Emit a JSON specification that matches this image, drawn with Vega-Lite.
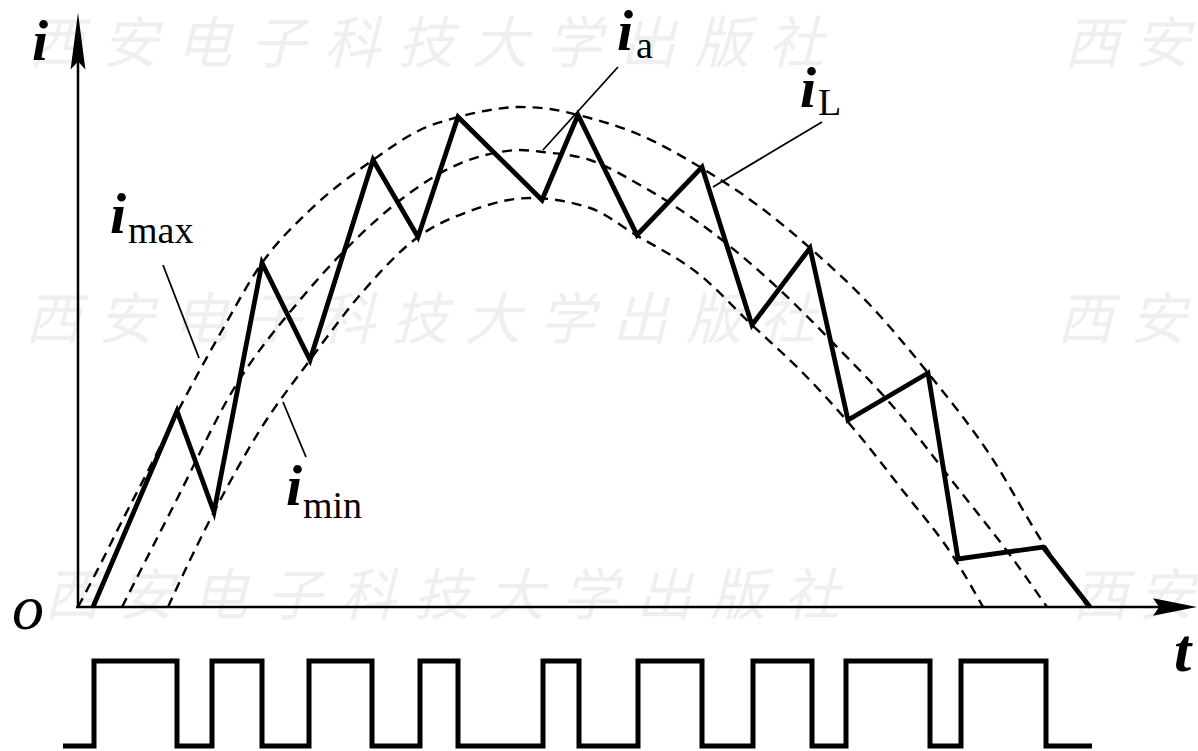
{
  "$schema": "https://vega.github.io/schema/vega-lite/v6.json",
  "width": 1198,
  "height": 751,
  "padding": 0,
  "autosize": {"type": "none"},
  "background": "white",
  "config": {"view": {"stroke": null}},
  "datasets": {
    "wm": [
      {"x": 56, "y": 46, "t": "西"}, {"x": 130, "y": 46, "t": "安"}, {"x": 204, "y": 46, "t": "电"}, {"x": 278, "y": 46, "t": "子"}, {"x": 352, "y": 46, "t": "科"}, {"x": 426, "y": 46, "t": "技"}, {"x": 500, "y": 46, "t": "大"}, {"x": 574, "y": 46, "t": "学"}, {"x": 648, "y": 46, "t": "出"}, {"x": 722, "y": 46, "t": "版"}, {"x": 796, "y": 46, "t": "社"}, {"x": 1092, "y": 46, "t": "西"}, {"x": 1162, "y": 46, "t": "安"},
      {"x": 53, "y": 322, "t": "西"}, {"x": 126, "y": 322, "t": "安"}, {"x": 200, "y": 322, "t": "电"}, {"x": 273, "y": 322, "t": "子"}, {"x": 347, "y": 322, "t": "科"}, {"x": 420, "y": 322, "t": "技"}, {"x": 493, "y": 322, "t": "大"}, {"x": 567, "y": 322, "t": "学"}, {"x": 640, "y": 322, "t": "出"}, {"x": 714, "y": 322, "t": "版"}, {"x": 787, "y": 322, "t": "社"}, {"x": 1085, "y": 322, "t": "西"}, {"x": 1158, "y": 322, "t": "安"},
      {"x": 72, "y": 598, "t": "西"}, {"x": 146, "y": 598, "t": "安"}, {"x": 220, "y": 598, "t": "电"}, {"x": 294, "y": 598, "t": "子"}, {"x": 368, "y": 598, "t": "科"}, {"x": 442, "y": 598, "t": "技"}, {"x": 516, "y": 598, "t": "大"}, {"x": 590, "y": 598, "t": "学"}, {"x": 664, "y": 598, "t": "出"}, {"x": 738, "y": 598, "t": "版"}, {"x": 812, "y": 598, "t": "社"}, {"x": 1100, "y": 598, "t": "西"}, {"x": 1166, "y": 598, "t": "安"}
    ],
    "curves": [
      {"s": "imax", "x": 78, "y": 607}, {"s": "imax", "x": 100, "y": 565}, {"s": "imax", "x": 120, "y": 525}, {"s": "imax", "x": 150, "y": 467}, {"s": "imax", "x": 177, "y": 413}, {"s": "imax", "x": 220, "y": 334}, {"s": "imax", "x": 262, "y": 263}, {"s": "imax", "x": 310, "y": 210}, {"s": "imax", "x": 373, "y": 160}, {"s": "imax", "x": 420, "y": 130}, {"s": "imax", "x": 458, "y": 117}, {"s": "imax", "x": 490, "y": 110}, {"s": "imax", "x": 518, "y": 107}, {"s": "imax", "x": 550, "y": 109}, {"s": "imax", "x": 578, "y": 115}, {"s": "imax", "x": 640, "y": 135}, {"s": "imax", "x": 700, "y": 167}, {"s": "imax", "x": 760, "y": 207}, {"s": "imax", "x": 810, "y": 248}, {"s": "imax", "x": 870, "y": 305}, {"s": "imax", "x": 928, "y": 373}, {"s": "imax", "x": 990, "y": 455}, {"s": "imax", "x": 1043, "y": 543}, {"s": "imax", "x": 1088, "y": 607},
      {"s": "ia", "x": 122, "y": 607}, {"s": "ia", "x": 150, "y": 552}, {"s": "ia", "x": 175, "y": 503}, {"s": "ia", "x": 233, "y": 390}, {"s": "ia", "x": 300, "y": 300}, {"s": "ia", "x": 350, "y": 245}, {"s": "ia", "x": 407, "y": 195}, {"s": "ia", "x": 450, "y": 168}, {"s": "ia", "x": 500, "y": 152}, {"s": "ia", "x": 520, "y": 150}, {"s": "ia", "x": 543, "y": 152}, {"s": "ia", "x": 590, "y": 160}, {"s": "ia", "x": 640, "y": 185}, {"s": "ia", "x": 713, "y": 233}, {"s": "ia", "x": 780, "y": 290}, {"s": "ia", "x": 840, "y": 350}, {"s": "ia", "x": 890, "y": 403}, {"s": "ia", "x": 960, "y": 491}, {"s": "ia", "x": 1010, "y": 555}, {"s": "ia", "x": 1047, "y": 607},
      {"s": "imin", "x": 168, "y": 607}, {"s": "imin", "x": 190, "y": 560}, {"s": "imin", "x": 214, "y": 512}, {"s": "imin", "x": 260, "y": 430}, {"s": "imin", "x": 310, "y": 360}, {"s": "imin", "x": 360, "y": 295}, {"s": "imin", "x": 418, "y": 237}, {"s": "imin", "x": 470, "y": 211}, {"s": "imin", "x": 530, "y": 198}, {"s": "imin", "x": 590, "y": 208}, {"s": "imin", "x": 636, "y": 235}, {"s": "imin", "x": 700, "y": 275}, {"s": "imin", "x": 752, "y": 325}, {"s": "imin", "x": 800, "y": 370}, {"s": "imin", "x": 848, "y": 422}, {"s": "imin", "x": 900, "y": 487}, {"s": "imin", "x": 958, "y": 564}, {"s": "imin", "x": 983, "y": 607}
    ],
    "iL": [
      {"x": 93, "y": 607}, {"x": 177, "y": 411}, {"x": 214, "y": 512}, {"x": 262, "y": 263}, {"x": 310, "y": 360}, {"x": 373, "y": 160}, {"x": 418, "y": 237}, {"x": 458, "y": 117}, {"x": 542, "y": 200}, {"x": 578, "y": 115}, {"x": 637, "y": 235}, {"x": 702, "y": 167}, {"x": 752, "y": 325}, {"x": 810, "y": 248}, {"x": 848, "y": 420}, {"x": 928, "y": 373}, {"x": 958, "y": 559}, {"x": 1043, "y": 547}, {"x": 1090, "y": 607}
    ],
    "pulse": [
      {"x": 63, "y": 746}, {"x": 94, "y": 661}, {"x": 177, "y": 746}, {"x": 212, "y": 661}, {"x": 262, "y": 746}, {"x": 309, "y": 661}, {"x": 372, "y": 746}, {"x": 420, "y": 661}, {"x": 458, "y": 746}, {"x": 543, "y": 661}, {"x": 579, "y": 746}, {"x": 638, "y": 661}, {"x": 702, "y": 746}, {"x": 753, "y": 661}, {"x": 812, "y": 746}, {"x": 846, "y": 661}, {"x": 930, "y": 746}, {"x": 961, "y": 661}, {"x": 1046, "y": 746}, {"x": 1092, "y": 746}
    ],
    "axes": [
      {"x": 78, "y": 607, "x2": 78, "y2": 45},
      {"x": 76, "y": 607, "x2": 1160, "y2": 607}
    ],
    "leaders": [
      {"x": 163, "y": 265, "x2": 199, "y2": 358},
      {"x": 283, "y": 402, "x2": 306, "y2": 457},
      {"x": 618, "y": 67, "x2": 543, "y2": 150},
      {"x": 822, "y": 122, "x2": 713, "y2": 187}
    ],
    "arrows": [
      {"d": "up", "x": 78, "y": 41},
      {"d": "right", "x": 1175, "y": 607}
    ],
    "mainI": [
      {"x": 32, "y": 60, "t": "i"},
      {"x": 110, "y": 233, "t": "i"},
      {"x": 286, "y": 505, "t": "i"},
      {"x": 617, "y": 50, "t": "i"},
      {"x": 800, "y": 107, "t": "i"}
    ],
    "subs": [
      {"x": 128, "y": 243, "t": "max"},
      {"x": 303, "y": 518, "t": "min"},
      {"x": 636, "y": 58, "t": "a"},
      {"x": 818, "y": 115, "t": "L"}
    ]
  },
  "layer": [
    {
      "data": {"name": "wm"},
      "mark": {"type": "text", "align": "center", "baseline": "middle", "font": "Noto Sans CJK SC", "fontSize": 56, "fontStyle": "italic", "color": "#efefef"},
      "encoding": {
        "x": {"field": "x", "type": "quantitative", "scale": {"domain": [0, 1198], "nice": false, "zero": false}, "axis": null},
        "y": {"field": "y", "type": "quantitative", "scale": {"domain": [0, 751], "nice": false, "zero": false, "reverse": true}, "axis": null},
        "text": {"field": "t"}
      }
    },
    {
      "data": {"name": "axes"},
      "mark": {"type": "rule", "strokeWidth": 2.5, "color": "black"},
      "encoding": {
        "x": {"field": "x", "type": "quantitative"},
        "y": {"field": "y", "type": "quantitative"},
        "x2": {"field": "x2"},
        "y2": {"field": "y2"}
      }
    },
    {
      "data": {"name": "arrows"},
      "transform": [{"filter": "datum.d === 'up'"}],
      "mark": {"type": "point", "filled": true, "color": "black", "opacity": 1, "size": 3249, "shape": "M0,-1L0.26,1L0,0.72L-0.26,1Z"},
      "encoding": {
        "x": {"field": "x", "type": "quantitative"},
        "y": {"field": "y", "type": "quantitative"}
      }
    },
    {
      "data": {"name": "arrows"},
      "transform": [{"filter": "datum.d === 'right'"}],
      "mark": {"type": "point", "filled": true, "color": "black", "opacity": 1, "size": 1936, "shape": "M1,0L-1,-0.4L-0.72,0L-1,0.4Z"},
      "encoding": {
        "x": {"field": "x", "type": "quantitative"},
        "y": {"field": "y", "type": "quantitative"}
      }
    },
    {
      "data": {"name": "curves"},
      "mark": {"type": "line", "interpolate": "monotone", "strokeWidth": 2.4, "strokeDash": [10, 7], "color": "black"},
      "encoding": {
        "x": {"field": "x", "type": "quantitative"},
        "y": {"field": "y", "type": "quantitative"},
        "detail": {"field": "s"}
      }
    },
    {
      "data": {"name": "leaders"},
      "mark": {"type": "rule", "strokeWidth": 1.8, "color": "black"},
      "encoding": {
        "x": {"field": "x", "type": "quantitative"},
        "y": {"field": "y", "type": "quantitative"},
        "x2": {"field": "x2"},
        "y2": {"field": "y2"}
      }
    },
    {
      "data": {"name": "iL"},
      "mark": {"type": "line", "interpolate": "linear", "strokeWidth": 4.8, "strokeJoin": "miter", "strokeCap": "butt", "color": "black"},
      "encoding": {
        "x": {"field": "x", "type": "quantitative"},
        "y": {"field": "y", "type": "quantitative"}
      }
    },
    {
      "data": {"name": "pulse"},
      "mark": {"type": "line", "interpolate": "step-after", "strokeWidth": 5, "strokeJoin": "miter", "strokeCap": "butt", "color": "black"},
      "encoding": {
        "x": {"field": "x", "type": "quantitative"},
        "y": {"field": "y", "type": "quantitative"}
      }
    },
    {
      "data": {"name": "mainI"},
      "mark": {"type": "text", "align": "left", "baseline": "alphabetic", "font": "Liberation Serif", "fontSize": 58, "fontStyle": "italic", "fontWeight": "bold", "color": "black"},
      "encoding": {
        "x": {"field": "x", "type": "quantitative"},
        "y": {"field": "y", "type": "quantitative"},
        "text": {"field": "t"}
      }
    },
    {
      "data": {"name": "subs"},
      "mark": {"type": "text", "align": "left", "baseline": "alphabetic", "font": "Liberation Serif", "fontSize": 38, "color": "black"},
      "encoding": {
        "x": {"field": "x", "type": "quantitative"},
        "y": {"field": "y", "type": "quantitative"},
        "text": {"field": "t"}
      }
    },
    {
      "data": {"values": [{"x": 12, "y": 629, "t": "o"}]},
      "mark": {"type": "text", "align": "left", "baseline": "alphabetic", "font": "Liberation Serif", "fontSize": 64, "fontStyle": "italic", "color": "black"},
      "encoding": {
        "x": {"field": "x", "type": "quantitative"},
        "y": {"field": "y", "type": "quantitative"},
        "text": {"field": "t"}
      }
    },
    {
      "data": {"values": [{"x": 1174, "y": 671, "t": "t"}]},
      "mark": {"type": "text", "align": "left", "baseline": "alphabetic", "font": "Liberation Serif", "fontSize": 62, "fontStyle": "italic", "fontWeight": "bold", "color": "black"},
      "encoding": {
        "x": {"field": "x", "type": "quantitative"},
        "y": {"field": "y", "type": "quantitative"},
        "text": {"field": "t"}
      }
    }
  ]
}
